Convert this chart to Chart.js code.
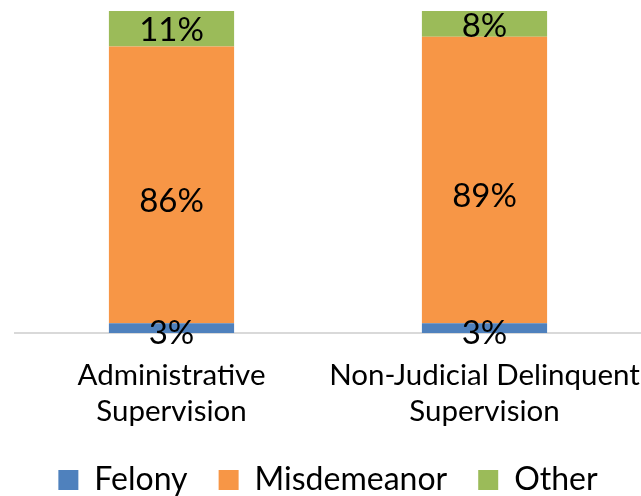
<!DOCTYPE html>
<html>
<head>
<meta charset="utf-8">
<script src="https://cdn.jsdelivr.net/npm/chart.js@4.4.1/dist/chart.umd.min.js"></script>
<style>
  html,body{margin:0;padding:0;background:#fff;}
  #wrap{width:641px;height:496px;position:relative;}
</style>
</head>
<body>
<div id="wrap"><canvas id="chart"></canvas></div>
<script>
// datos
const categorias = [['Administrative','Supervision'], ['Non-Judicial Delinquent','Supervision']];
const felony = [3, 3];
const misdemeanor = [86, 89];
const other = [11, 8];

const FONT = 'Lato, "Open Sans", sans-serif';

// etiquetas de porcentaje dentro de cada segmento
const etiquetas = {
  id: 'etiquetas',
  afterDatasetsDraw(chart){
    const ctx = chart.ctx;
    ctx.save();
    ctx.font = '33px ' + FONT;
    ctx.fillStyle = '#000';
    ctx.textAlign = 'center';
    ctx.textBaseline = 'middle';
    const ajustes = [5, 16, 2];
    chart.data.datasets.forEach((ds, i) => {
      const meta = chart.getDatasetMeta(i);
      meta.data.forEach((el, j) => {
        const p = el.getCenterPoint();
        ctx.fillText(ds.data[j] + '%', p.x, p.y + ajustes[i]);
      });
    });
    ctx.restore();
  }
};

new Chart(document.getElementById('chart'), {
  type: 'bar',
  data: {
    labels: categorias,
    datasets: [
      {label: 'Felony', data: felony, backgroundColor: '#4F81BD'},
      {label: 'Misdemeanor', data: misdemeanor, backgroundColor: '#F79646'},
      {label: 'Other', data: other, backgroundColor: '#9BBB59'}
    ]
  },
  options: {
    responsive: true,
    maintainAspectRatio: false,
    animation: false,
    layout: {padding: {top: 11, left: 15, right: 0, bottom: -10}},
    datasets: {bar: {categoryPercentage: 1, barPercentage: 0.4}},
    scales: {
      x: {
        stacked: true,
        grid: {display: false},
        border: {display: true, color: '#D9D9D9', width: 2},
        ticks: {color: '#000', font: {family: FONT, size: 29.5}, padding: 17, maxRotation: 0, autoSkip: false},
        afterFit(scale){
          scale.height = 100;
          // las etiquetas pueden salirse, no reducir el area
          scale.paddingLeft = 0;
          scale.paddingRight = 0;
        }
      },
      y: {stacked: true, display: false, min: 0, max: 100}
    },
    plugins: {
      tooltip: {enabled: false},
      legend: {
        position: 'bottom',
        labels: {color: '#000', font: {family: FONT, size: 32}, boxWidth: 20, boxHeight: 20, padding: 31}
      }
    }
  },
  plugins: [etiquetas]
});
</script>
</body>
</html>
